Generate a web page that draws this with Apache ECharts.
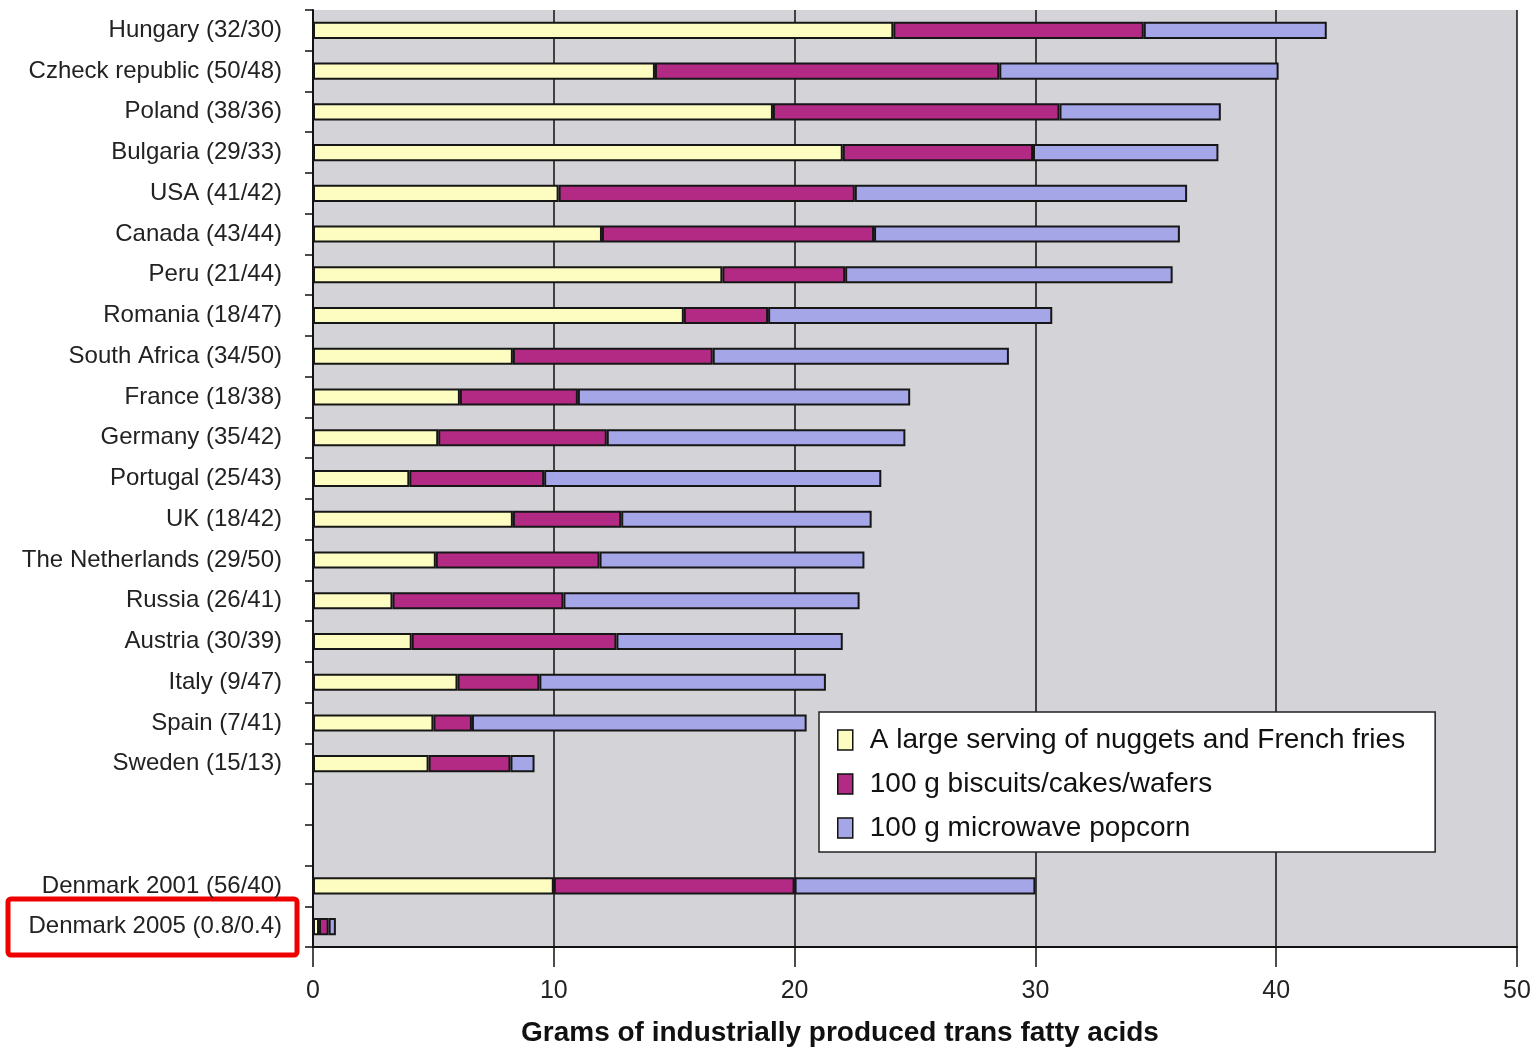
<!DOCTYPE html>
<html>
<head>
<meta charset="utf-8">
<script src="https://cdn.jsdelivr.net/npm/echarts@6/dist/echarts.min.js"></script>
<style>
html,body{margin:0;padding:0;background:#fff;}
#chart{width:1539px;height:1056px;}
</style>
</head>
<body>
<div id="chart"></div>
<script>
const categories = [
  'Hungary (32/30)', 'Czheck republic (50/48)', 'Poland (38/36)', 'Bulgaria (29/33)',
  'USA (41/42)', 'Canada (43/44)', 'Peru (21/44)', 'Romania (18/47)',
  'South Africa (34/50)', 'France (18/38)', 'Germany (35/42)', 'Portugal (25/43)',
  'UK (18/42)', 'The Netherlands (29/50)', 'Russia (26/41)', 'Austria (30/39)',
  'Italy (9/47)', 'Spain (7/41)', 'Sweden (15/13)', ' ', '  ',
  'Denmark 2001 (56/40)', 'Denmark 2005 (0.8/0.4)'
];
const seriesNames = [
  'A large serving of nuggets and French fries',
  '100 g biscuits/cakes/wafers',
  '100 g microwave popcorn'
];
const nuggetsFries = [24.1, 14.2, 19.1, 22.0, 10.2, 12.0, 17.0, 15.4, 8.3, 6.1, 5.2, 4.0, 8.3, 5.1, 3.3, 4.1, 6.0, 5.0, 4.8, null, null, 10.0, 0.25];
const biscuits     = [10.4, 14.3, 11.9, 7.9, 12.3, 11.3, 5.1, 3.5, 8.3, 4.9, 7.0, 5.6, 4.5, 6.8, 7.1, 8.5, 3.4, 1.6, 3.4, null, null, 10.0, 0.4];
const popcorn      = [7.6, 11.6, 6.7, 7.7, 13.8, 12.7, 13.6, 11.8, 12.3, 13.8, 12.4, 14.0, 10.4, 11.0, 12.3, 9.4, 11.9, 13.9, 1.0, null, null, 10.0, 0.3];
const xTicks = [0, 10, 20, 30, 40, 50];
const colors = ['#fdfdc2', '#b22a84', '#a4a6e8'];

const FONT = 'Liberation Sans, Arial, sans-serif';
const chart = echarts.init(document.getElementById('chart'));
const mk = (name, data, color) => ({
  name, type: 'bar', stack: 'total', data,
  barWidth: '42%',
  itemStyle: { color, borderColor: '#161616', borderWidth: 2 },
  emphasis: { disabled: true }
});
chart.setOption({
  animation: false,
  backgroundColor: '#ffffff',
  grid: {
    left: 313, right: 22, top: 10, bottom: 109,
    show: true, backgroundColor: '#d4d4d8', borderWidth: 0, containLabel: false
  },
  legend: {
    orient: 'vertical', left: 819, top: 712,
    backgroundColor: '#ffffff', borderColor: '#222', borderWidth: 1.5,
    padding: [14, 30, 10, 18], itemGap: 16,
    itemWidth: 15, itemHeight: 20, icon: 'rect',
    itemStyle: { borderColor: '#111', borderWidth: 1.5 },
    textStyle: { fontFamily: FONT, fontSize: 28, color: '#111', padding: [0, 0, 0, 12] },
    data: seriesNames
  },
  xAxis: {
    type: 'value', min: xTicks[0], max: xTicks[xTicks.length - 1], interval: 10,
    axisLine: { show: true, lineStyle: { color: '#111', width: 2 } },
    axisTick: { show: true, length: 20, lineStyle: { color: '#111', width: 1.5 } },
    axisLabel: { fontFamily: FONT, fontSize: 25, color: '#222', margin: 32 },
    splitLine: { show: true, lineStyle: { color: '#111', width: 1.5 } }
  },
  yAxis: {
    type: 'category', inverse: true, data: categories,
    axisLine: { show: true, lineStyle: { color: '#111', width: 2 } },
    axisTick: { show: true, length: 8, alignWithLabel: false, lineStyle: { color: '#111', width: 1.5 } },
    axisLabel: { fontFamily: FONT, fontSize: 24, color: '#222', margin: 31, interval: 0 },
    splitLine: { show: false }
  },
  graphic: [
    {
      type: 'text', left: 521, top: 1019,
      style: { text: 'Grams of industrially produced trans fatty acids', fontFamily: FONT, fontSize: 28, fontWeight: 'bold', fill: '#111' }
    },
    {
      type: 'rect', shape: { x: 8, y: 899, width: 289, height: 56, r: 3 },
      style: { fill: 'none', stroke: '#ee0000', lineWidth: 5 }
    }
  ],
  series: [
    mk(seriesNames[0], nuggetsFries, colors[0]),
    mk(seriesNames[1], biscuits, colors[1]),
    mk(seriesNames[2], popcorn, colors[2])
  ]
});
</script>
</body>
</html>
